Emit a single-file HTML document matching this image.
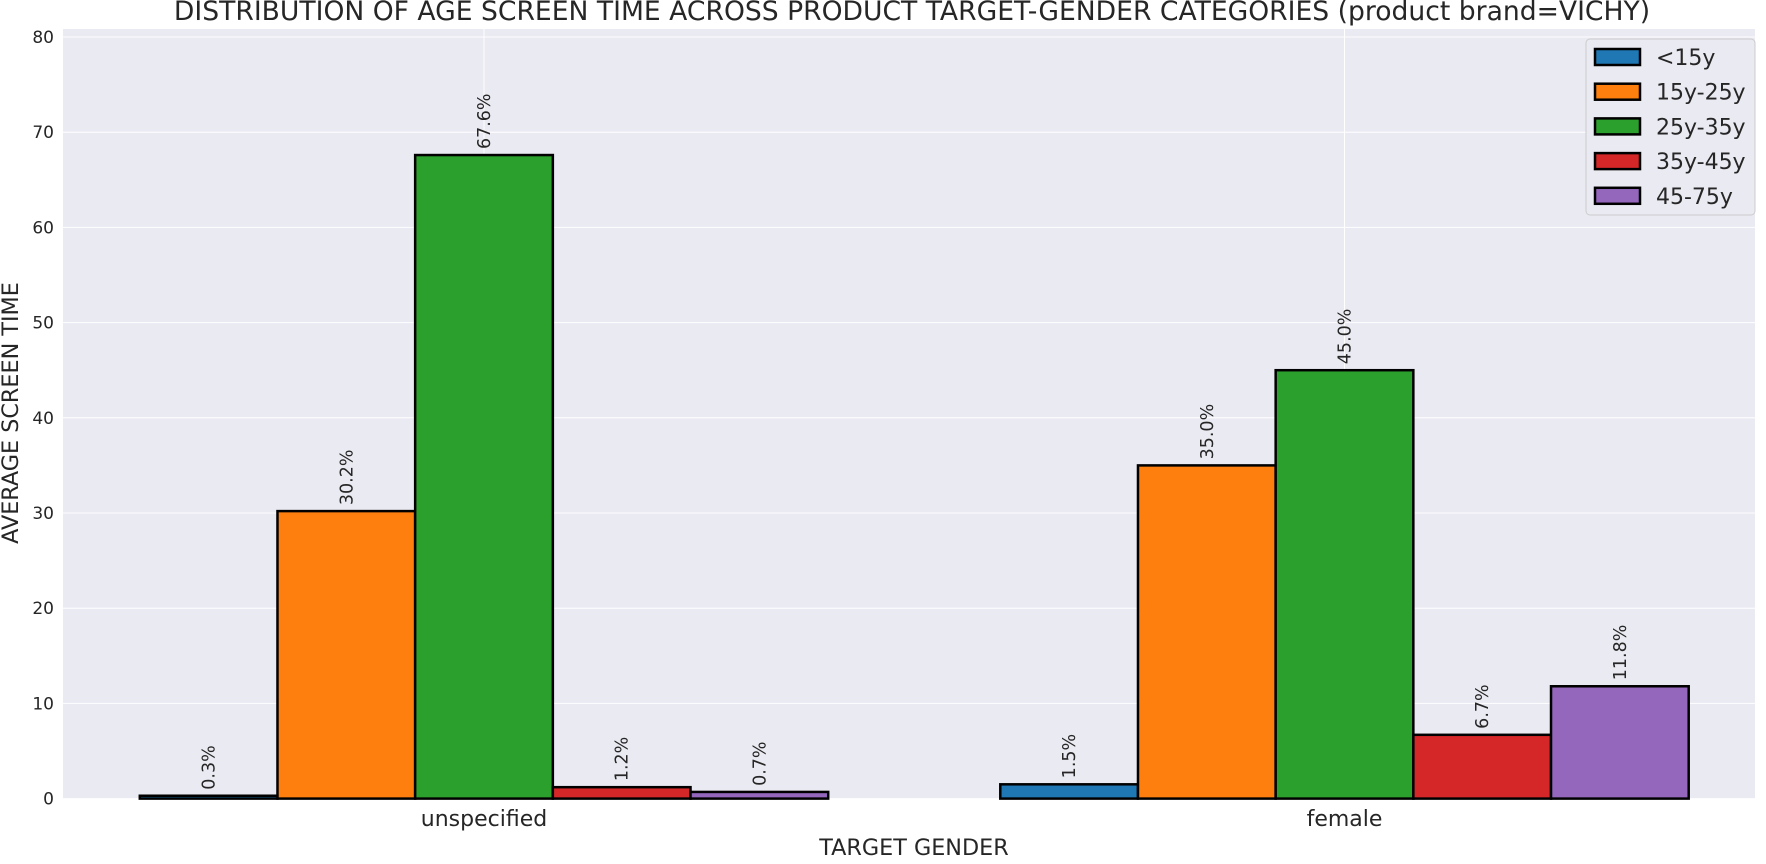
<!DOCTYPE html>
<html><head><meta charset="utf-8"><style>
body{margin:0;background:#fff;}
svg text{font-family:"DejaVu Sans","Liberation Sans",sans-serif;fill:#262626;}
</style></head><body>
<svg id="chart" width="1766" height="859" xmlns="http://www.w3.org/2000/svg">
<text x="912" y="20" font-size="26.6" text-anchor="middle">DISTRIBUTION OF AGE SCREEN TIME ACROSS PRODUCT TARGET-GENDER CATEGORIES (product brand=VICHY)</text>
<rect x="63" y="29" width="1692" height="770" fill="#eaeaf2"/>
<g id="grid"></g><g id="bars"></g><g id="labels"></g><g id="axes"></g>
<text x="914" y="855" font-size="22.3" text-anchor="middle">TARGET GENDER</text>
<text transform="translate(18,413) rotate(-90)" font-size="22.3" text-anchor="middle">AVERAGE SCREEN TIME</text>
<g id="legend"></g>
</svg>
<script>
const categories=["unspecified","female"];
const seriesNames=["<15y","15y-25y","25y-35y","35y-45y","45-75y"];
const s0=[0.3,1.5];
const s1=[30.2,35.0];
const s2=[67.6,45.0];
const s3=[1.2,6.7];
const s4=[0.7,11.8];
const yTicks=[0,10,20,30,40,50,60,70,80];
const series=[s0,s1,s2,s3,s4];
const colors=["#1f77b4","#ff7f0e","#2ca02c","#d62728","#9467bd"];
const NS="http://www.w3.org/2000/svg";
const L=63,R=1755,T=29,B=798.6;
const x0=484,unit=860.5;
function X(v){return x0+v*unit;}
function Y(v){return B-(v/80)*(B-37);}
function mk(tag,attrs,parent){const e=document.createElementNS(NS,tag);for(const k in attrs)e.setAttribute(k,attrs[k]);document.getElementById(parent).appendChild(e);return e;}
yTicks.forEach(t=>{
 const l=mk('line',{x1:L,x2:R,y1:Y(t),y2:Y(t),stroke:'#fff','stroke-width':1},'grid');
 
 
 const tx=mk('text',{x:L-9,y:Y(t)+6,'font-size':17,'text-anchor':'end'},'axes');
 
 
 tx.textContent=t;
});
categories.forEach((c,i)=>{
 const l=mk('line',{x1:X(i),x2:X(i),y1:T,y2:B,stroke:'#fff','stroke-width':1},'grid');
 
 
 const tx=mk('text',{x:X(i),y:826,'font-size':22,'text-anchor':'middle'},'axes');
 
 
 tx.textContent=c;
});
const w=0.16;
series.forEach((s,j)=>{
 s.forEach((v,i)=>{
  const xl=X(i-0.4+j*w),bw=w*unit;
  const r=mk('rect',{x:xl,y:Y(v),width:bw,height:Y(0)-Y(v),fill:colors[j],stroke:'#000','stroke-width':2.5},'bars');
  
  
  const cx=xl+bw/2,ty=Y(v)-6;
  const tx=mk('text',{transform:`translate(${cx+6},${ty}) rotate(-90)`,'font-size':17.5},'labels');
  
  
  tx.textContent=v.toFixed(1)+'%';
 });
});
const lg=mk('rect',{x:1586,y:39,width:169,height:176,rx:4,fill:'#eaeaf2',stroke:'#ccc','stroke-width':1},'legend');


seriesNames.forEach((n,j)=>{
 const y=57+j*34.7;
 const p=mk('rect',{x:1595,y:y-8,width:45,height:16,fill:colors[j],stroke:'#000','stroke-width':2.5},'legend');
 
 
 const t=mk('text',{x:1656,y:y+8,'font-size':22},'legend');
 
 
 t.textContent=n;
});
</script>
</body></html>
